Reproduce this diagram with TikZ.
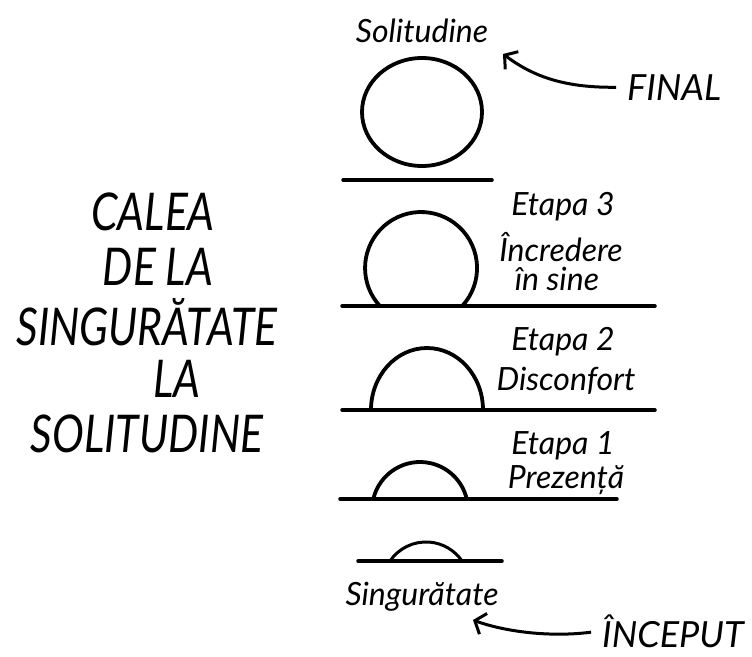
\documentclass[tikz,border=0pt]{standalone}
\usepackage{fontspec}
\newfontfamily\handfont{Lato}[FakeStretch=0.82]
\newfontfamily\notefont{Lato}
\usetikzlibrary{arrows.meta}
\tikzset{
every node/.style={ % all labels look handwritten
inner sep=0pt,
anchor=base},
label/.style={font=\notefont\itshape\fontsize{32}{32}\selectfont},
title/.style={font=\handfont\itshape\fontsize{52}{52}\selectfont},
tag/.style={font=\notefont\itshape\fontsize{36}{36}\selectfont},
ground/.style={line width=3.5pt, line cap=round}, % horizon lines
ball/.style={line width=3.8pt},
pointer/.style={ % curved arrows
line width=3pt,
shorten <=11pt,
-{Straight Barb[length=9pt,width=22pt]}}}

\begin{document}
\begin{tikzpicture}[x=1pt, y=-1pt]
\useasboundingbox (0,0) rectangle (752,656);
% title on the left
\foreach \x/\y/\t [count=\i] in {153/230/CALEA, 158/285/DE LA, 147/345/SINGURĂTATE, 177/397/LA, 147/452/SOLITUDINE}
  \node[title] (title\i) at (\x,\y) {\t};
% final state
\node[label] (solitudine) at (422,42) {Solitudine};
\draw[ball] (422,112) ellipse[x radius=60pt, y radius=54pt];
\draw[ground] (343,180) -- (492,180);
% etapa 3
\draw[ball] (462.2,306) arc[start angle=-42.7, end angle=222.7, radius=56pt];
\draw[ground] (342,306) -- (655,306);
\node[label] (etapa3) at (563,215) {Etapa 3};
\node[label] (incredere) at (561,261) {Încredere};
\node[label] (insine) at (557,290) {în sine};
% etapa 2
\draw[ball] (371,410) arc[start angle=180, end angle=0, x radius=56pt, y radius=62pt];
\draw[ground] (342,410) -- (655,410);
\node[label] (etapa2) at (563,350) {Etapa 2};
\node[label] (disconfort) at (566,390) {Disconfort};
% etapa 1
\draw[ball] (373.3,499) arc[start angle=166.75, end angle=13.25, radius=48pt];
\draw[ground] (340,499) -- (617,499);
\node[label] (etapa1) at (563,454) {Etapa 1};
\node[label] (prezenta) at (566,488) {Prezență};
% start state
\draw[line width=3pt] (390,561) arc[start angle=145.7, end angle=34.3, radius=43.6pt];
\draw[ground] (358,561) -- (502,561);
\node[label] (singuratate) at (422,605) {Singurătate};
% arrows
\node[tag, anchor=base west] (final) at (627,100) {FINAL};
\node[tag, anchor=base west] (inceput) at (602,647) {ÎNCEPUT};
\coordinate (finaltip) at (503,54);
\coordinate (inceputtip) at (473,620);
\draw[pointer] (final.west) .. controls (560,88) and (530,74) .. (finaltip);
\draw[pointer] (inceput.west) .. controls (545,638) and (500,630) .. (inceputtip);
\end{tikzpicture}
\end{document}
